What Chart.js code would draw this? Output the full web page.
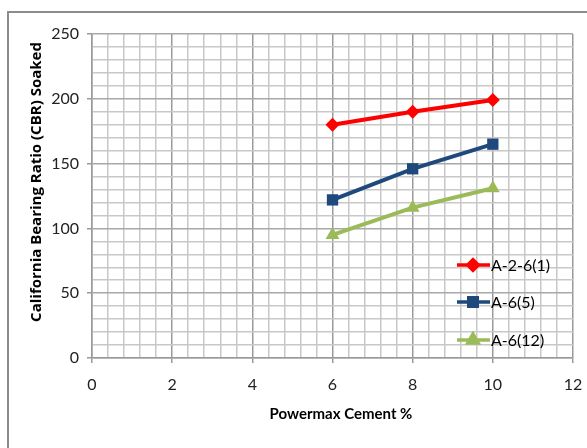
<!DOCTYPE html>
<html>
<head>
<meta charset="utf-8">
<script src="https://cdn.jsdelivr.net/npm/chart.js@4.4.0/dist/chart.umd.min.js"></script>
<style>
  html, body { margin: 0; padding: 0; background: #fff; }
  #wrap { position: relative; width: 587px; height: 448px; }
  #frame { position: absolute; left: 7px; top: 11px; width: 600px; height: 460px;
           border-left: 2px solid #8c8c8c; border-top: 2px solid #8c8c8c; }
  canvas { position: absolute; left: 0; top: 0; }
</style>
</head>
<body>
<div id="wrap">
  <div id="frame"></div>
  <canvas id="mycanvas" width="587" height="448"></canvas>
</div>
<script>
// Powermax cement content (%)
var cement = [6, 8, 10];

// CBR soaked values per soil
var a26_1 = [180, 190, 199];
var a6_5 = [122, 146, 165];
var a6_12 = [95, 116, 131];

var seriesNames = ["A-2-6(1)", "A-6(5)", "A-6(12)"];

var xTicks = [0, 2, 4, 6, 8, 10, 12];
var yTicks = [0, 50, 100, 150, 200, 250];

var xTitle = "Powermax Cement %";
var yTitle = "California Bearing Ratio (CBR) Soaked";

function pts(vals) {
  var out = [];
  for (var i = 0; i < cement.length; i++) {
    out.push({ x: cement[i], y: vals[i] });
  }
  return out;
}

var font = "Lato, 'Open Sans', sans-serif";

// legend drawn inside the plot area, like the original sheet
var insideLegend = {
  id: "insideLegend",
  afterDraw: function(chart) {
    var ctx = chart.ctx;
    var ys = [265, 302, 340];
    ctx.save();
    chart.data.datasets.forEach(function(ds, i) {
      var y = ys[i];
      ctx.strokeStyle = ds.borderColor;
      ctx.lineWidth = 3.5;
      ctx.beginPath();
      ctx.moveTo(457, y);
      ctx.lineTo(490, y);
      ctx.stroke();
      ctx.fillStyle = ds.backgroundColor;
      ctx.strokeStyle = ds.backgroundColor;
      Chart.helpers.drawPoint(ctx, {
        pointStyle: ds.pointStyle,
        radius: ds.pointRadius * 0.75,
        rotation: 0,
        borderWidth: 1
      }, 473, y);
      ctx.fillStyle = "#000";
      ctx.font = "16px " + font;
      ctx.textBaseline = "middle";
      ctx.textAlign = "left";
      ctx.fillText(ds.label, 491, y + 1);
    });
    ctx.restore();
  }
};

// axis titles placed where the sheet had them
var axisTitles = {
  id: "axisTitles",
  afterDraw: function(chart) {
    var ctx = chart.ctx;
    ctx.save();
    ctx.fillStyle = "#000";
    ctx.textAlign = "center";
    ctx.textBaseline = "middle";
    ctx.font = "bold 15px " + font;
    ctx.fillText(xTitle, 341, 414);
    ctx.translate(37, 182);
    ctx.rotate(-Math.PI / 2);
    ctx.font = "bold 15px 'Open Sans', sans-serif";
    ctx.fillText(yTitle, 0, 0);
    ctx.restore();
  }
};

var ctx1 = document.getElementById("mycanvas");

var LineGraph1 = new Chart(ctx1, {
  type: "line",
  data: {
    datasets: [
      {
        label: seriesNames[0],
        data: pts(a26_1),
        borderColor: "#ff0000",
        backgroundColor: "#ff0000",
        borderWidth: 4,
        pointStyle: "rectRot",
        pointRadius: 7,
        pointBorderWidth: 0,
        tension: 0
      },
      {
        label: seriesNames[1],
        data: pts(a6_5),
        borderColor: "#1f497d",
        backgroundColor: "#1f497d",
        borderWidth: 4,
        pointStyle: "rect",
        pointRadius: 8,
        pointBorderWidth: 0,
        tension: 0
      },
      {
        label: seriesNames[2],
        data: pts(a6_12),
        borderColor: "#9bbb59",
        backgroundColor: "#9bbb59",
        borderWidth: 4,
        pointStyle: "triangle",
        pointRadius: 8,
        pointBorderWidth: 0,
        tension: 0
      }
    ]
  },
  options: {
    responsive: false,
    animation: false,
    layout: { padding: { left: 0, right: 14, top: 34, bottom: 0 } },
    plugins: {
      legend: { display: false },
      tooltip: { enabled: false }
    },
    scales: {
      x: {
        type: "linear",
        min: xTicks[0],
        max: xTicks[xTicks.length - 1],
        afterFit: function(scale) {
          scale.height = 90;
          scale.paddingLeft = 0;
          scale.paddingRight = 0;
        },
        afterBuildTicks: function(scale) {
          var t = [];
          for (var i = 0; i <= 30; i++) t.push({ value: Math.round(i * 0.4 * 10) / 10 });
          scale.ticks = t;
        },
        ticks: {
          autoSkip: false,
          maxRotation: 0,
          padding: 12,
          color: "#222",
          font: { family: font, size: 16 },
          callback: function(v) { return xTicks.indexOf(v) >= 0 ? String(v) : ""; }
        },
        grid: {
          tickLength: 5,
          color: function(c) { return xTicks.indexOf(c.tick.value) >= 0 ? "#9a9a9a" : "#c8c8c8"; },
          tickColor: function(c) { return xTicks.indexOf(c.tick.value) >= 0 ? "#9a9a9a" : "rgba(0,0,0,0)"; },
          lineWidth: 1.5
        },
        border: { color: "#9a9a9a", width: 1.5 }
      },
      y: {
        min: 0,
        max: 250,
        afterFit: function(scale) {
          scale.width = 92;
          scale.paddingTop = 0;
          scale.paddingBottom = 0;
        },
        afterBuildTicks: function(scale) {
          var t = [];
          for (var v = 0; v <= 250; v += 10) t.push({ value: v });
          scale.ticks = t;
        },
        ticks: {
          autoSkip: false,
          padding: 8,
          color: "#222",
          font: { family: font, size: 16 },
          callback: function(v) { return yTicks.indexOf(v) >= 0 ? String(v) : ""; }
        },
        grid: {
          tickLength: 5,
          color: function(c) { return yTicks.indexOf(c.tick.value) >= 0 ? "#a8a8a8" : "#c8c8c8"; },
          tickColor: function(c) { return yTicks.indexOf(c.tick.value) >= 0 ? "#9a9a9a" : "rgba(0,0,0,0)"; },
          lineWidth: 1.5
        },
        border: { color: "#9a9a9a", width: 1.5 }
      }
    }
  },
  plugins: [insideLegend, axisTitles]
});
</script>
</body>
</html>
